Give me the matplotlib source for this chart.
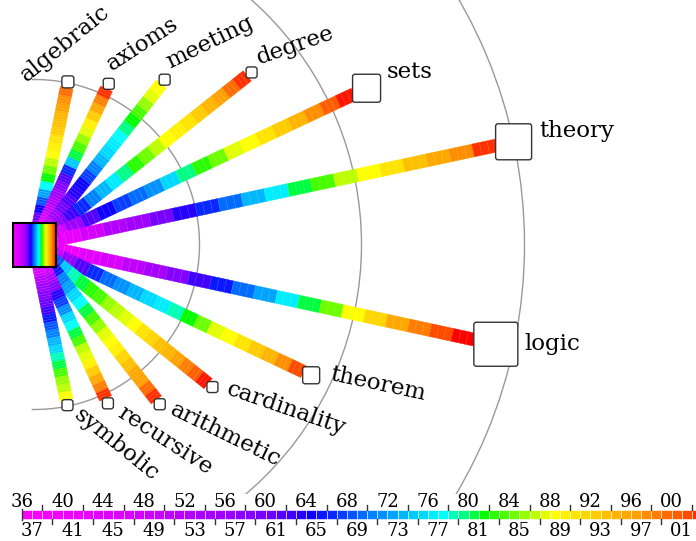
import numpy as np
import matplotlib
matplotlib.use("Agg")
import matplotlib.pyplot as plt
from matplotlib.colors import LinearSegmentedColormap, Normalize
from matplotlib.patches import Polygon, Rectangle, FancyBboxPatch, Arc
from matplotlib.collections import LineCollection

# --- data ---
words = ["algebraic", "axioms", "meeting", "degree", "sets", "theory",
         "logic", "theorem", "cardinality", "arithmetic", "recursive", "symbolic"]
angles = [78.4, 65.2, 51.7, 38.4, 25.2, 12.1, -12.2, -25.3, -38.7, -51.9, -65.2, -78.4]
radii = [166, 177, 210, 277, 367, 490, 472, 306, 228, 203, 175, 164]
node_sizes = [12, 11, 11, 11, 28, 36, 44, 17, 11, 11, 11, 11]

# year of each stretch of a band, from the centre out to the word
band_years = [
    [1940, 1948, 1955, 1960, 1964, 1968, 1972, 1977, 1981, 1984, 1986, 1988, 1989, 1990, 1992, 1993, 1994, 1996, 1997, 1999],
    [1937, 1940, 1943, 1946, 1949, 1952, 1955, 1958, 1961, 1966, 1974, 1980, 1983, 1985, 1987, 1989, 1992, 1995, 1998, 2002],
    [1938, 1944, 1950, 1955, 1959, 1961, 1963, 1964, 1967, 1970, 1973, 1975, 1976, 1977, 1979, 1981, 1983, 1985, 1987, 1988],
    [1938, 1948, 1957, 1962, 1966, 1970, 1973, 1976, 1979, 1982, 1984, 1986, 1988, 1989, 1990, 1992, 1994, 1996, 1999, 2002],
    [1938, 1946, 1955, 1961, 1964, 1967, 1969, 1971, 1975, 1979, 1982, 1984, 1987, 1988, 1990, 1992, 1994, 1997, 2000, 2003],
    [1937, 1942, 1947, 1952, 1955, 1959, 1963, 1966, 1969, 1973, 1976, 1980, 1983, 1986, 1988, 1990, 1993, 1995, 1997, 2002],
    [1937, 1940, 1943, 1946, 1950, 1954, 1958, 1962, 1965, 1969, 1972, 1976, 1980, 1984, 1988, 1991, 1995, 1998, 2001, 2004],
    [1938, 1948, 1956, 1961, 1966, 1969, 1971, 1973, 1975, 1976, 1978, 1981, 1984, 1987, 1988, 1990, 1992, 1994, 1997, 2001],
    [1942, 1958, 1968, 1974, 1978, 1980, 1982, 1983, 1985, 1986, 1987, 1988, 1990, 1991, 1993, 1994, 1996, 1998, 2000, 2003],
    [1940, 1950, 1958, 1965, 1970, 1972, 1975, 1977, 1980, 1983, 1985, 1987, 1988, 1989, 1991, 1993, 1995, 1996, 1999, 2002],
    [1937, 1940, 1944, 1948, 1953, 1958, 1963, 1967, 1971, 1975, 1977, 1980, 1983, 1986, 1987, 1989, 1992, 1995, 1998, 2002],
    [1937, 1940, 1943, 1946, 1951, 1955, 1958, 1960, 1962, 1965, 1968, 1970, 1973, 1975, 1978, 1980, 1983, 1985, 1986, 1988],
]
ring_radii = [165, 327, 490]
bar_years = list(range(1936, 2003))
top_labels = ["36", "40", "44", "48", "52", "56", "60", "64", "68", "72", "76", "80", "84", "88", "92", "96", "00"]
bottom_labels = ["37", "41", "45", "49", "53", "57", "61", "65", "69", "73", "77", "81", "85", "89", "93", "97", "01"]

# --- colour scale ---
y0, y1 = 1936, 2004
anchors = [(1936, (1, 0, 1)), (1946, (0.85, 0, 1)), (1956, (0.6, 0, 1)), (1960, (0.42, 0, 1)),
           (1964, (0.05, 0, 1)), (1970, (0, 0.5, 1)), (1977, (0, 1, 1)), (1981, (0, 1, 0)),
           (1988, (1, 1, 0)), (1992, (1, 0.8, 0)), (1996, (1, 0.63, 0)), (2001, (1, 0.3, 0)),
           (2004, (1, 0, 0))]
cmap = LinearSegmentedColormap.from_list(
    "years", [((y - y0) / (y1 - y0), c) for y, c in anchors])
norm = Normalize(y0, y1)

# --- layout (pixels, y down) ---
CX, CY = 34.5, 244.5
BAND_W = 13
SUB = 3
# label offset from node centre (dx, dy) and rotation
label_layout = {
    "algebraic": (-41, 0, 39), "axioms": (3, -13, 33), "meeting": (5, -11, 26),
    "degree": (8, -8, 19), "sets": (20, -10, 0), "theory": (26, -5, 0),
    "logic": (29, 6, 0), "theorem": (18, 5, -12), "cardinality": (13, 7, -19),
    "arithmetic": (9, 10, -26), "recursive": (8, 13, -33), "symbolic": (5, 12, -39),
}
SERIF = "DejaVu Serif"

fig = plt.figure(figsize=(6.96, 5.41), dpi=100)
ax = fig.add_axes([0, 0, 1, 1])
ax.set_xlim(0, 696)
ax.set_ylim(541, 0)
ax.axis("off")

# rings, stopped above the colour bar
clip = Rectangle((0, 0), 696, 494, transform=ax.transData)
for r in ring_radii:
    arc = Arc((CX, CY), 2 * r, 2 * r, theta1=-91, theta2=91,
              color="#999999", lw=1, zorder=1)
    ax.add_patch(arc)
    arc.set_clip_path(clip)

# bands
for word, ang, r, size, years in zip(words, angles, radii, node_sizes, band_years):
    th = np.radians(ang)
    d = np.array([np.cos(th), -np.sin(th)])
    n = np.array([np.sin(th), np.cos(th)]) * BAND_W / 2
    c = np.array([CX, CY])
    length = r - size / 2
    steps = len(years) * SUB
    seps = []
    for i in range(steps):
        a, b = i / steps * length, (i + 1) / steps * length
        pts = [c + d * a + n, c + d * b + n, c + d * b - n, c + d * a - n]
        col = cmap(norm(years[i // SUB]))
        ax.add_patch(Polygon(pts, closed=True, facecolor=col, edgecolor=col,
                             lw=0.3, zorder=2))
        if i > 0:
            seps.append([c + d * a + n * 0.9, c + d * a - n * 0.9])
    ax.add_collection(LineCollection(seps, colors=(1, 1, 1, 0.35), lw=0.4,
                                     linestyles=(0, (1, 1)), zorder=3))

# nodes and labels
for word, ang, r, size in zip(words, angles, radii, node_sizes):
    th = np.radians(ang)
    x, y = CX + r * np.cos(th), CY - r * np.sin(th)
    ax.add_patch(FancyBboxPatch((x - size / 2, y - size / 2), size, size,
                                boxstyle="round,pad=0,rounding_size=2.5",
                                facecolor="white", edgecolor="#333333",
                                lw=1, zorder=5))
    dx, dy, rot = label_layout[word]
    ax.text(x + dx, y + dy, word,
            rotation=rot, rotation_mode="anchor", ha="left", va="baseline",
            fontsize=16.5, family=SERIF, color="black", zorder=6)

# centre node: the colour scale squeezed into a box
grad = np.linspace(y0, y1, 200).reshape(1, -1)
ax.imshow(grad, cmap=cmap, norm=norm, extent=[13, 56, 266.5, 223],
          aspect="auto", zorder=6)
ax.add_patch(Rectangle((13, 223), 43, 43.5, fill=False, edgecolor="black",
                       lw=1.5, zorder=7))

# colour bar at the bottom
bx0, step = 22, 10.15
ytop, ybot = 510, 519
for yr in bar_years:
    x = bx0 + (yr - 1936) * step
    ax.add_patch(Rectangle((x, ytop), step, ybot - ytop,
                           facecolor=cmap(norm(yr)), edgecolor="white",
                           lw=0.4, zorder=4))
ax.plot([bx0, bx0], [ytop - 1, ybot + 1], color="#333333", lw=1, zorder=5)
for k, lab in enumerate(top_labels):
    yr = 1936 + 4 * k
    x = bx0 + (yr - 1936) * step
    ax.text(x, 507, lab, ha="center", va="baseline", fontsize=13,
            family=SERIF, zorder=6)
    xt = x + 2 * step
    if xt < 696:
        ax.plot([xt, xt], [ytop - 5, ytop], color="#333333", lw=1, zorder=5)
for k, lab in enumerate(bottom_labels):
    yr = 1937 + 4 * k
    x = bx0 + (yr - 1936) * step
    ax.text(x, 522, lab, ha="center", va="top", fontsize=13,
            family=SERIF, zorder=6)
    xt = x + 2 * step
    if xt < 696:
        ax.plot([xt, xt], [ybot, ybot + 5], color="#333333", lw=1, zorder=5)

fig.savefig("out.png", dpi=100)
